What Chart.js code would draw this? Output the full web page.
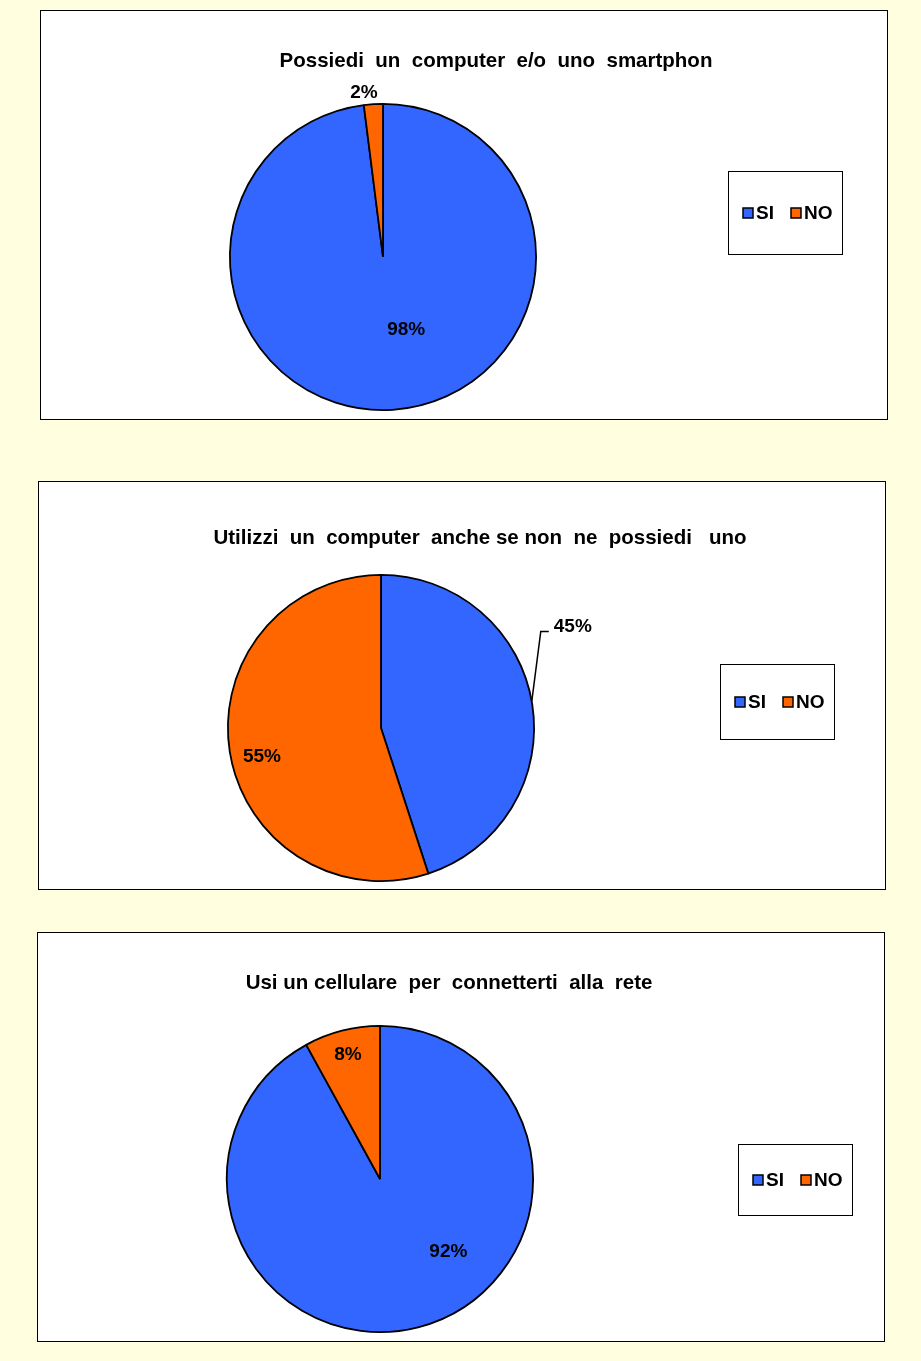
<!DOCTYPE html>
<html>
<head>
<meta charset="utf-8">
<script src="https://cdn.jsdelivr.net/npm/chart.js@4.4.0/dist/chart.umd.min.js"></script>
<style>
body{margin:0;background:#FFFFE0;width:921px;height:1361px;position:relative;overflow:hidden}
.box{position:absolute;background:#fff;border:1px solid #000;width:846px}
canvas{display:block}
</style>
</head>
<body>
<div class="box" style="left:40px;top:10px;height:408px"><canvas id="c1" width="846" height="408"></canvas></div>
<div class="box" style="left:38px;top:481px;height:407px"><canvas id="c2" width="846" height="407"></canvas></div>
<div class="box" style="left:37px;top:932px;height:408px"><canvas id="c3" width="846" height="408"></canvas></div>
<script>
// data
const categories = ["SI", "NO"]
const titles = [
"Possiedi  un  computer  e/o  uno  smartphon",
"Utilizzi  un  computer  anche se non  ne  possiedi   uno",
"Usi un cellulare  per  connetterti  alla  rete"
]
const computer = [98, 2]
const usaComputer = [45, 55]
const cellulare = [92, 8]

const colors = ["#3366FF", "#FF6600"]
const TITLE_FONT = "bold 20.5px 'Liberation Sans', Arial, sans-serif"
const FONT = "bold 19px 'Liberation Sans', Arial, sans-serif"

// title, percentage labels and legend box drawn by hand
const extras = {
id: "extras",
afterDraw(chart, args, o) {
let ctx = chart.ctx
ctx.save()
ctx.fillStyle = "#000"
ctx.font = TITLE_FONT
ctx.textAlign = "center"
ctx.textBaseline = "middle"
ctx.fillText(o.title, o.titleX, o.titleY)
ctx.font = FONT

let arcs = chart.getDatasetMeta(0).data
let vals = chart.data.datasets[0].data
arcs.forEach((arc, i) => {
let p = o.labels[i]
let mid = (arc.startAngle + arc.endAngle) / 2 + p.da * Math.PI / 180
let r = arc.outerRadius
if (p.leader) {
let ex = arc.x + r * Math.cos(mid), ey = arc.y + r * Math.sin(mid)
let [dx, dy, h] = p.leader
ctx.strokeStyle = "#000"
ctx.lineWidth = 1.5
ctx.beginPath()
ctx.moveTo(ex, ey)
ctx.lineTo(ex + dx, ey + dy)
ctx.lineTo(ex + dx + h, ey + dy)
ctx.stroke()
ctx.textAlign = "left"
ctx.fillText(vals[i] + "%", ex + dx + h + 5, ey + dy - 5)
ctx.textAlign = "center"
} else {
ctx.fillText(vals[i] + "%", arc.x + r * p.f * Math.cos(mid), arc.y + r * p.f * Math.sin(mid))
}
})

let L = o.legend
ctx.lineWidth = 1
ctx.strokeStyle = "#000"
ctx.strokeRect(L.x + 0.5, L.y + 0.5, 114, L.h)
let cy = L.y + L.h / 2 + 0.5
let xs = [L.x + 15, L.x + 63]
ctx.lineWidth = 1.5
categories.forEach((c, i) => {
ctx.fillStyle = colors[i]
ctx.fillRect(xs[i], cy - 5, 10, 10)
ctx.strokeRect(xs[i], cy - 5, 10, 10)
ctx.fillStyle = "#000"
ctx.textAlign = "left"
ctx.fillText(c, xs[i] + 13, cy + 1)
})
ctx.restore()
}
}

function pie(id, values, opts) {
return new Chart(document.getElementById(id), {
type: "pie",
data: {
labels: categories,
datasets: [{
data: values,
backgroundColor: colors,
borderColor: "#000",
borderWidth: 1.8
}]
},
options: {
responsive: false,
animation: false,
layout: {padding: {left: 188, top: 92, right: 350, bottom: opts.bottom}},
plugins: {
legend: {display: false},
tooltip: {enabled: false},
extras: opts
}
},
plugins: [extras]
})
}

pie("c1", computer, {
title: titles[0], titleX: 496 - 41, titleY: 50, bottom: 8,
labels: [{da: -14, f: 0.5}, {da: -3, f: 1.08}],
legend: {x: 687, y: 160, h: 83}
})

pie("c2", usaComputer, {
title: titles[1], titleX: 480 - 39, titleY: 56, bottom: 7,
labels: [{da: -1, leader: [9, -70, 8]}, {da: -4.6, f: 0.8}],
legend: {x: 681, y: 182, h: 75}
})

pie("c3", cellulare, {
title: titles[2], titleX: 449 - 38, titleY: 50, bottom: 8,
labels: [{da: -29, f: 0.65}, {da: 0, f: 0.84}],
legend: {x: 700, y: 211, h: 71}
})
</script>
</body>
</html>
